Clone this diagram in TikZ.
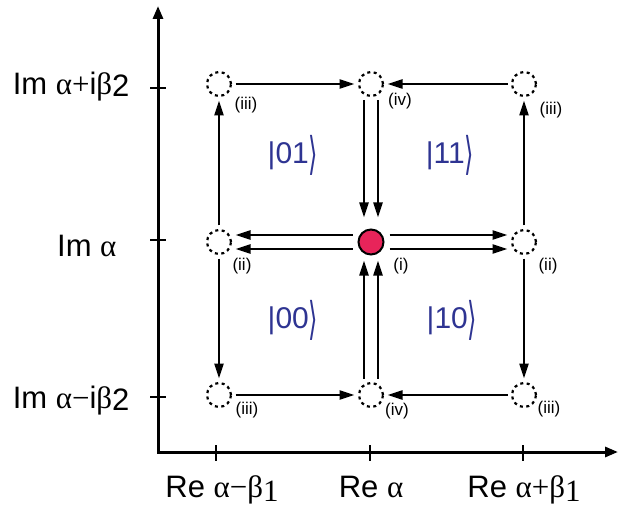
\documentclass[tikz,border=0pt]{standalone}
\usepackage{fontspec}
\setmainfont{Liberation Sans}
\newfontfamily\grk{Liberation Serif}
\newfontfamily\brk{DejaVu Sans}
\usetikzlibrary{arrows.meta}
\definecolor{dot_c}{RGB}{232,36,90}
\definecolor{ket_c}{RGB}{46,52,146}
\newcommand{\ga}{{\grk α}}
\newcommand{\gb}{{\grk β}}
\newcommand{\lowr}[2][2pt]{\raisebox{-#1}{#2}}
\newcommand{\qket}[1]{|#1\raisebox{-6pt}{\scalebox{0.8}[1.5]{\brk ⟩}}}

\begin{document}
\begin{tikzpicture}[
  x=1pt, y=-1pt,
  every node/.style={font=\fontsize{31}{33}\selectfont},
  ax/.style={line width=3pt, {Triangle[length=13pt,width=10pt]}-{Triangle[length=13pt,width=10pt]}},
  tk/.style={line width=2.5pt},
  xl/.style={anchor=base, inner sep=1pt},
  st/.style={circle, draw, dash pattern=on 3pt off 3.5pt, line width=2.2pt,
             minimum size=24pt, inner sep=0pt, outer sep=4.5pt},
  gs/.style={circle, draw, line width=2pt, fill=dot_c,
             minimum size=25pt, inner sep=0pt, outer sep=6pt},
  ar/.style={line width=2.2pt, -{Triangle[length=15pt,width=9pt]}},
  lbl/.style={font=\fontsize{17}{18}\selectfont},
  kt/.style={text=ket_c, font=\fontsize{30}{32}\selectfont},
]
\useasboundingbox (0,0) rectangle (619,508);
% axes
\coordinate (ytop) at (158,6);
\coordinate (O) at (158,452);
\coordinate (xend) at (618,452);
\draw[ax] (ytop) -- (O) -- (xend);
\foreach \y in {88,240,397} \draw[tk] (150,\y) -- (166,\y);
\foreach \x in {216,370,523} \draw[tk] (\x,445) -- (\x,461);
\node[anchor=base east] (ylt) at (133,95)  {Im \ga{\grk +}i\gb\lowr{2}};
\node[anchor=base east] (ylm) at (120,256) {Im \ga};
\node[anchor=base east] (ylb) at (133,408) {Im \ga{\grk −}i\gb\lowr{2}};
\node[xl] (xll) at (222,497) {Re \ga{\grk −}\gb\lowr[4pt]{\grk 1}};
\node[xl] (xlm) at (371,497) {Re \ga};
\node[xl] (xlr) at (524,497) {Re \ga{\grk +}\gb\lowr[4pt]{\grk 1}};
% states
\node[st] (tl) at (219,84)  {};
\node[st] (tm) at (371,84)  {};
\node[st] (tr) at (524,84)  {};
\node[st] (ml) at (219,242) {};
\node[gs] (ctr) at (371,242) {};
\node[st] (mr) at (524,242) {};
\node[st] (bl) at (219,395) {};
\node[st] (bm) at (371,395) {};
\node[st] (br) at (524,395) {};
\node[lbl] (ltl) at (246,105) {(iii)};
\node[lbl] (ltm) at (400,101) {(iv)};
\node[lbl] (ltr) at (551,110) {(iii)};
\node[lbl] (lml) at (242,266) {(ii)};
\node[lbl] (lctr) at (401,266) {(i)};
\node[lbl] (lmr) at (548,266) {(ii)};
\node[lbl] (lbl) at (247,410) {(iii)};
\node[lbl] (lbm) at (397,411) {(iv)};
\node[lbl] (lbr) at (549,409) {(iii)};
% kets
\node[kt] (k01) at (293,155) {\qket{01}};
\node[kt] (k11) at (450,155) {\qket{11}};
\node[kt] (k00) at (293,320) {\qket{00}};
\node[kt] (k10) at (452,320) {\qket{10}};
% transitions
\draw[ar] (tl) -- (tm);
\draw[ar] (tr) -- (tm);
\draw[ar] (bl) -- (bm);
\draw[ar] (br) -- (bm);
\draw[ar] (ml) -- (tl);
\draw[ar] (ml) -- (bl);
\draw[ar] (mr) -- (tr);
\draw[ar] (mr) -- (br);
\foreach \s in {-7,7} {
  \draw[ar, shorten >=6pt] ([xshift=\s pt]tm.south) -- ([xshift=\s pt]ctr.north);
  \draw[ar] ([xshift=\s pt]bm.north) -- ([xshift=\s pt]ctr.south);
  \draw[ar] ([yshift=\s pt]ctr.west) -- ([yshift=\s pt]ml.east);
  \draw[ar] ([yshift=\s pt]ctr.east) -- ([yshift=\s pt]mr.west);
}
\end{tikzpicture}
\end{document}
